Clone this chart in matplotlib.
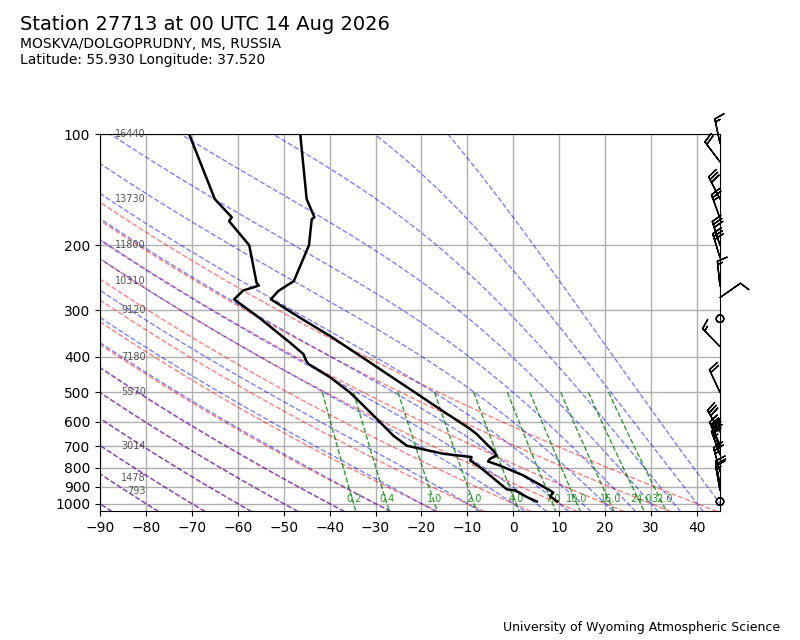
import numpy as np
import matplotlib
matplotlib.use('Agg')
import matplotlib.pyplot as plt
from matplotlib import transforms
from matplotlib.ticker import MultipleLocator, ScalarFormatter, NullLocator

# sounding values (hPa, degC)
p_temp = [100, 150, 168, 170, 200, 250, 266, 280, 316, 352, 415, 424, 511, 555,
          628, 648, 718, 741, 756, 769, 789, 839, 921, 934, 955, 987]
temp = [-46.4, -45.0, -43.3, -43.9, -44.5, -47.8, -51.2, -52.8, -46.1, -39.9, -31.2,
        -30.1, -20.3, -16.0, -9.4, -8.0, -4.4, -3.6, -5.1, -5.5, -2.9, 2.2, 8.0,
        8.7, 8.0, 9.6]
p_dew = [100, 150, 168, 172, 200, 253, 257, 265, 280, 315, 367, 394, 411, 419, 455,
         500, 521, 590, 655, 675, 697, 733, 748, 764, 796, 883, 915, 921, 959, 987]
dewp = [-70.6, -65.0, -61.3, -61.9, -57.5, -55.9, -55.4, -58.8, -60.8, -55.2, -48.6,
        -45.7, -45.1, -44.6, -39.9, -35.6, -34.1, -29.7, -26.1, -24.7, -23.2, -15.2,
        -9.1, -9.4, -7.3, -2.9, -1.4, 0.4, 2.9, 5.1]

# wind (direction deg, speed kt)
p_wind = [106, 119, 150, 169, 200, 216, 258, 277, 316, 376, 500,
          640, 693, 710, 738, 820, 893, 921, 987]
wdir = [348, 323, 333, 340, 342, 343, 354, 55, 0, 316, 335,
        330, 335, 340, 340, 345, 350, 350, 0]
wspd = [15, 20, 30, 25, 30, 30, 15, 10, 0, 15, 20,
        30, 30, 30, 25, 25, 20, 15, 0]

# geopotential heights at mandatory levels
p_hgt = [100, 150, 200, 250, 300, 400, 500, 700, 850, 925]
hgt = [16440, 13730, 11800, 10310, 9120, 7180, 5570, 3014, 1478, 793]

# background lines
dry_t0 = np.arange(-90, 41, 10)
moist_t0 = np.concatenate((np.arange(-90, 0, 10), np.arange(0, 46, 5)))
mix_ratios = [0.2, 0.4, 1.0, 2.0, 4.0, 7.0, 10.0, 16.0, 24.0, 32.0]  # g/kg

Rd = 287.04749
Cp = 1004.666
Lv = 2.50084e6
eps = 0.6219569
kappa = Rd / Cp


def sat_vp(t):
    tc = t - 273.15
    return 6.112 * np.exp(17.67 * tc / (tc + 243.5))


def moist_dtdp(p, t):
    es = sat_vp(t)
    rs = eps * es / (p - es)
    frac = (Rd * t + Lv * rs) / (Cp + Lv * Lv * rs * eps / (Rd * t * t))
    return frac / p


def march(t, pgrid):
    out = [t]
    for p1, p2 in zip(pgrid[:-1], pgrid[1:]):
        h = p2 - p1
        k1 = moist_dtdp(p1, t)
        k2 = moist_dtdp(p1 + h / 2, t + h / 2 * k1)
        k3 = moist_dtdp(p1 + h / 2, t + h / 2 * k2)
        k4 = moist_dtdp(p2, t + h * k3)
        t = t + h / 6 * (k1 + 2 * k2 + 2 * k3 + k4)
        out.append(t)
    return np.array(out)


fig = plt.figure(figsize=(8, 6.4), dpi=100)
ax = fig.add_axes([0.125, 0.2008, 0.775, 0.5898])
ax.set_yscale('log')
ax.set_xlim(-90, 45)
ax.set_ylim(1050, 100)
ax.xaxis.set_major_locator(MultipleLocator(10))
ax.yaxis.set_major_locator(MultipleLocator(100))
ax.yaxis.set_major_formatter(ScalarFormatter())
ax.yaxis.set_minor_locator(NullLocator())
ax.grid(True, color='#b0b0b0', lw=1)
ax.set_axisbelow(True)

# dry adiabats
pres = np.linspace(1050, 100, 100)
for t0 in dry_t0:
    tk = (t0 + 273.15) * (pres / 1000.) ** kappa
    ax.plot(tk - 273.15, pres, color='r', ls='--', lw=1, alpha=0.5)

# moist adiabats
p_up = np.linspace(1000, 100, 400)
p_dn = np.linspace(1000, 1050, 20)
t_up = march(moist_t0 + 273.15, p_up)
t_dn = march(moist_t0 + 273.15, p_dn)
for i in range(len(moist_t0)):
    pp = np.concatenate((p_dn[::-1], p_up[1:]))
    tt = np.concatenate((t_dn[::-1, i], t_up[1:, i]))
    ax.plot(tt - 273.15, pp, color='b', ls='--', lw=1, alpha=0.5)

# mixing ratio lines
p_mix = np.linspace(500, 1050, 50)
for w in mix_ratios:
    e = p_mix * (w / 1000.) / (eps + w / 1000.)
    val = np.log(e / 6.112)
    td = 243.5 * val / (17.67 - val)
    ax.plot(td, p_mix, color='g', ls='--', lw=1, alpha=0.8)
    e0 = 1000. * (w / 1000.) / (eps + w / 1000.)
    v0 = np.log(e0 / 6.112)
    ax.text(243.5 * v0 / (17.67 - v0), 1000, f'{w:.1f}', color='g', alpha=0.85,
            fontsize=7, ha='center', va='bottom')

# profiles
ax.plot(temp, p_temp, color='k', lw=1.8, zorder=5)
ax.plot(dewp, p_dew, color='k', lw=1.8, zorder=5)

# heights
for p, h in zip(p_hgt, hgt):
    ax.text(-80, p, str(h), color='#555555', fontsize=7, ha='right', va='center')

# wind barbs on the right edge
wd = np.deg2rad(np.array(wdir))
ws = np.array(wspd, dtype=float)
u = -ws * np.sin(wd)
v = -ws * np.cos(wd)
bt = transforms.blended_transform_factory(ax.transAxes, ax.transData)
ax.barbs(np.ones(len(p_wind)), p_wind, u, v, transform=bt, clip_on=False,
         length=6, lw=1, zorder=6)

fig.text(20 / 800, 1 - 30 / 640, 'Station 27713 at 00 UTC 14 Aug 2026',
         fontsize=14, va='baseline')
fig.text(20 / 800, 1 - 48 / 640, 'MOSKVA/DOLGOPRUDNY, MS, RUSSIA',
         fontsize=10, va='baseline')
fig.text(20 / 800, 1 - 64 / 640, 'Latitude: 55.930 Longitude: 37.520',
         fontsize=10, va='baseline')
fig.text(780 / 800, 1 - 631 / 640, 'University of Wyoming Atmospheric Science',
         fontsize=9, ha='right', va='baseline')

fig.savefig('out.png', dpi=100)
